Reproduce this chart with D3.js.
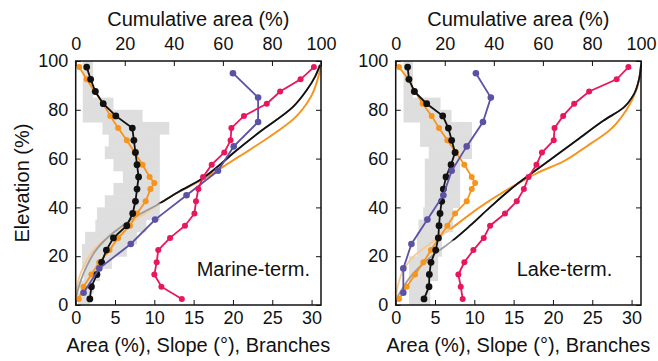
<!DOCTYPE html>
<html>
<head>
<meta charset="utf-8">
<script src="https://cdn.jsdelivr.net/npm/d3@7/dist/d3.min.js"></script>
<style>
  body { margin: 0; background: #fff; }
  svg text { font-family: "Liberation Sans", Arial, sans-serif; fill: #111; }
</style>
</head>
<body>
<svg id="chart" width="658" height="361"></svg>
<script>
// elevation bins (%), mid points and lower edges
const elevMid = [2.5, 7.5, 12.5, 17.5, 22.5, 27.5, 32.5, 37.5, 42.5, 47.5, 52.5, 57.5, 62.5, 67.5, 72.5, 77.5, 82.5, 87.5, 92.5, 97.5];
const areaElev = [2.5, 7.5, 12.5, 17.5, 22.5, 27.5, 32.5, 37.5, 42.5, 47.5, 50, 52.5, 57.5, 62.5, 67.5, 72.5, 77.5, 82.5, 87.5, 92.5, 97.5];
const slopeElev = [5, 15, 25, 35, 45, 55, 65, 75, 85, 95];
const bandElev = [0, 5, 10, 15, 20, 25, 30, 35, 40, 45, 50, 55, 60, 65, 70, 75, 80, 85, 90, 95];

const bottomTicks = [0, 5, 10, 15, 20, 25, 30];
const topTicks = [0, 20, 40, 60, 80, 100];
const yTicks = [0, 20, 40, 60, 80, 100];

// Marine-terminating
const marineArea = [0.4, 1.0, 2.0, 3.0, 4.3, 5.4, 6.9, 7.8, 8.9, 9.5, 10.0, 9.4, 8.5, 7.5, 6.5, 5.4, 4.4, 3.5, 2.4, 1.4, 0.45];
const marineMean = [1.8, 2.0, 2.7, 3.3, 3.9, 4.8, 6.5, 7.25, 7.6, 7.8, 8.0, 7.8, 7.6, 7.4, 7.2, 5.1, 3.5, 2.5, 1.9, 1.4];
const marineSlope = [1.0, 3.0, 7.0, 10.1, 14.1, 18.1, 20.1, 23.2, 23.2, 20.0];
const marineBranches = [13.5, 10.9, 10.0, 10.3, 10.5, 12.0, 13.9, 15.1, 15.3, 15.6, 16.2, 17.3, 18.9, 19.7, 19.8, 21.4, 24.3, 26.0, 28.6, 30.3];
const marineBandLo = [0.3, 0.5, 1.0, 0.8, 0.8, 1.2, 2.5, 2.7, 3.7, 4.8, 6.0, 4.8, 3.7, 4.2, 3.4, 0.9, 0.9, 0.9, 0.9, 0.9];
const marineBandHi = [1.8, 2.3, 3.1, 4.6, 6.5, 7.8, 9.0, 10.7, 10.7, 10.7, 10.7, 10.7, 10.7, 10.7, 11.9, 8.5, 4.8, 2.2, 2.2, 2.2];
const marineCumBlackE = [2, 9.1, 15.9, 22.8, 29.6, 36.5, 41.7, 46.7, 50.8, 57.5, 62.5, 71, 81.3, 88.1, 93.6, 98.4];
const marineCumBlackC = [0, 1.75, 4.5, 8.5, 15.3, 24.9, 34.4, 42.5, 50.0, 58.8, 64.5, 75.1, 88.7, 94.2, 97.6, 99.6];
const marineCumOrangeE = [2, 10.2, 15.6, 22.4, 28.6, 35.4, 44.3, 50.5, 56.6, 61.4, 68.6, 76.4, 85.2, 93.4, 98];
const marineCumOrangeC = [0, 1.1, 3.1, 7.2, 14.0, 24.9, 38.4, 50, 60, 67.5, 78.5, 89, 95.8, 98.9, 100];

// Lake-terminating
const lakeArea = [0.42, 1.4, 2.46, 3.52, 4.49, 5.5, 6.57, 7.55, 9.03, 9.67, 10.1, 9.67, 8.73, 7.67, 6.57, 5.51, 4.58, 3.43, 2.46, 1.6, 0.42];
const lakeMean = [3.6, 4.24, 4.28, 4.49, 5.09, 5.42, 5.51, 5.64, 5.85, 6.06, 6.4, 7.04, 7.55, 7.12, 6.7, 5.98, 3.94, 2.37, 1.69, 1.52];
const lakeSlope = [0.97, 0.97, 2.0, 4.03, 6.06, 7.12, 9.03, 11.1, 12.1, 10.2];
const lakeBranches = [8.52, 8.27, 7.97, 8.73, 9.88, 11.2, 12.0, 13.9, 15.4, 16.3, 16.9, 17.9, 18.6, 20.1, 20.2, 21.3, 22.7, 24.6, 28.1, 29.6];
const lakeBandLo = [1.7, 1.7, 1.7, 1.7, 2.7, 2.7, 2.9, 3.5, 3.7, 3.7, 3.7, 3.7, 4.2, 3.1, 3.1, 1.0, 1.0, 1.0, 1.0, 1.0];
const lakeBandHi = [4.4, 4.4, 5.4, 5.4, 5.9, 5.9, 7.3, 7.3, 8.2, 8.2, 8.2, 8.2, 9.7, 9.7, 9.7, 7.1, 5.7, 2.2, 2.2, 2.2];
const lakeCumBlackE = [2, 13, 20.5, 26.4, 32.5, 40, 50, 55.5, 61.5, 67.5, 75.5, 81, 86, 93, 98.5];
const lakeCumBlackC = [0, 7.2, 15.3, 23.2, 30.3, 38.4, 50, 57.5, 65.6, 73.8, 84.6, 93, 96.9, 99.3, 100];
const lakeCumOrangeE = [2, 8.8, 14.3, 19.8, 25.2, 32.0, 40.2, 46.3, 49.9, 54, 58.8, 65, 71.8, 80, 88.3, 97.8];
const lakeCumOrangeC = [0, 1.1, 3.1, 7.2, 14.0, 23.5, 34.4, 43.9, 50, 57.5, 68.3, 77.8, 87.4, 94.1, 98.2, 100];

const panels = [
  { label: "Marine-term.", left: 75.7, area: marineArea, mean: marineMean, slope: marineSlope, branches: marineBranches,
    bandLo: marineBandLo, bandHi: marineBandHi,
    cumBlack: { e: marineCumBlackE, c: marineCumBlackC, fadeBelow: 41.7 },
    cumOrange: { e: marineCumOrangeE, c: marineCumOrangeC, fadeBelow: 41.7 }, yTitle: true },
  { label: "Lake-term.", left: 395.7, area: lakeArea, mean: lakeMean, slope: lakeSlope, branches: lakeBranches,
    bandLo: lakeBandLo, bandHi: lakeBandHi,
    cumBlack: { e: lakeCumBlackE, c: lakeCumBlackC, fadeBelow: 26.4 },
    cumOrange: { e: lakeCumOrangeE, c: lakeCumOrangeC, fadeBelow: 31 }, yTitle: false }
];

const W = 245.3, H = 244, TOP = 61;
const ORANGE = "#f7941d", BLUE = "#5b52a6", PINK = "#e8175d";

const svg = d3.select("#chart");
const x = d3.scaleLinear().domain([0, 31.2]).range([0, W]);
const xc = d3.scaleLinear().domain([0, 100]).range([0, W]);
const y = d3.scaleLinear().domain([0, 100]).range([H, 0]);

const valLine = d3.line().x(d => x(d.v)).y(d => y(d.e));
const cumLine = d3.line().x(d => xc(d.c)).y(d => y(d.e)).curve(d3.curveMonotoneY);

function styleAxis(g) {
  g.select(".domain").remove();
  g.selectAll(".tick line").attr("stroke", "#111").attr("stroke-width", 1);
  g.selectAll(".tick text").attr("font-size", 18).attr("fill", "#111");
}

panels.forEach((p, i) => {
  const g = svg.append("g").attr("transform", `translate(${p.left},${TOP})`);

  // grey range band
  g.append("g").selectAll("rect")
    .data(bandElev.map((e, k) => ({ e, lo: p.bandLo[k], hi: p.bandHi[k] })))
    .join("rect")
    .attr("x", d => x(d.lo))
    .attr("width", d => x(d.hi) - x(d.lo))
    .attr("y", d => y(d.e + 5))
    .attr("height", d => y(d.e) - y(d.e + 5) + 0.5)
    .attr("fill", "#dedede");

  // cumulative curves (faded below a threshold)
  [[p.cumOrange, ORANGE, "#f9c98f"], [p.cumBlack, "#111", "#9c9c9c"]].forEach(([cum, col, faded], j) => {
    const pts = cum.e.map((e, k) => ({ e, c: cum.c[k] }));
    const id = `clip${i}${j}`;
    g.append("clipPath").attr("id", id).append("rect")
      .attr("x", -5).attr("y", -5).attr("width", W + 10).attr("height", y(cum.fadeBelow) + 5);
    g.append("path").attr("d", cumLine(pts)).attr("fill", "none")
      .attr("stroke", faded).attr("stroke-width", 1.8);
    g.append("path").attr("d", cumLine(pts)).attr("fill", "none")
      .attr("stroke", col).attr("stroke-width", 1.8).attr("clip-path", `url(#${id})`);
  });

  const series = [
    { pts: areaElev.map((e, k) => ({ e, v: p.area[k] })), col: ORANGE, r: 3 },
    { pts: elevMid.map((e, k) => ({ e, v: p.mean[k] })), col: "#111", r: 3.4 },
    { pts: slopeElev.map((e, k) => ({ e, v: p.slope[k] })), col: BLUE, r: 3.3 },
    { pts: elevMid.map((e, k) => ({ e, v: p.branches[k] })), col: PINK, r: 3 }
  ];
  series.forEach(s => {
    g.append("path").attr("d", valLine(s.pts)).attr("fill", "none")
      .attr("stroke", s.col).attr("stroke-width", 1.8);
    g.append("g").selectAll("circle").data(s.pts).join("circle")
      .attr("cx", d => x(d.v)).attr("cy", d => y(d.e)).attr("r", s.r).attr("fill", s.col);
  });

  // axes, ticks inside
  g.append("g").attr("transform", `translate(0,${H})`)
    .call(d3.axisBottom(x).tickValues(bottomTicks).tickSizeInner(-5).tickSizeOuter(0).tickPadding(6))
    .call(styleAxis);
  g.append("g")
    .call(d3.axisTop(xc).tickValues(topTicks).tickSizeInner(-5).tickSizeOuter(0).tickPadding(11))
    .call(styleAxis);
  g.append("g")
    .call(d3.axisLeft(y).tickValues(yTicks).tickSizeInner(-5).tickSizeOuter(0).tickPadding(7.5))
    .call(styleAxis);
  g.append("g").attr("transform", `translate(${W},0)`)
    .call(d3.axisRight(y).tickValues(yTicks).tickSizeInner(-5).tickSizeOuter(0).tickFormat(""))
    .call(styleAxis);

  g.append("rect").attr("width", W).attr("height", H)
    .attr("fill", "none").attr("stroke", "#111").attr("stroke-width", 1.5);

  g.append("text").attr("x", 121).attr("y", 215).attr("font-size", 20).text(p.label);

  g.append("text").attr("x", W / 2).attr("y", -35).attr("text-anchor", "middle")
    .attr("font-size", 20).text("Cumulative area (%)");
  g.append("text").attr("x", W / 2).attr("y", H + 47).attr("text-anchor", "middle")
    .attr("font-size", 20).text("Area (%), Slope (\u00B0), Branches");

  if (p.yTitle) {
    g.append("text").attr("transform", `translate(-54,${H / 2}) rotate(-90)`)
      .attr("text-anchor", "middle").attr("dy", "0.35em").attr("font-size", 20)
      .text("Elevation (%)");
  }
});
</script>
</body>
</html>
